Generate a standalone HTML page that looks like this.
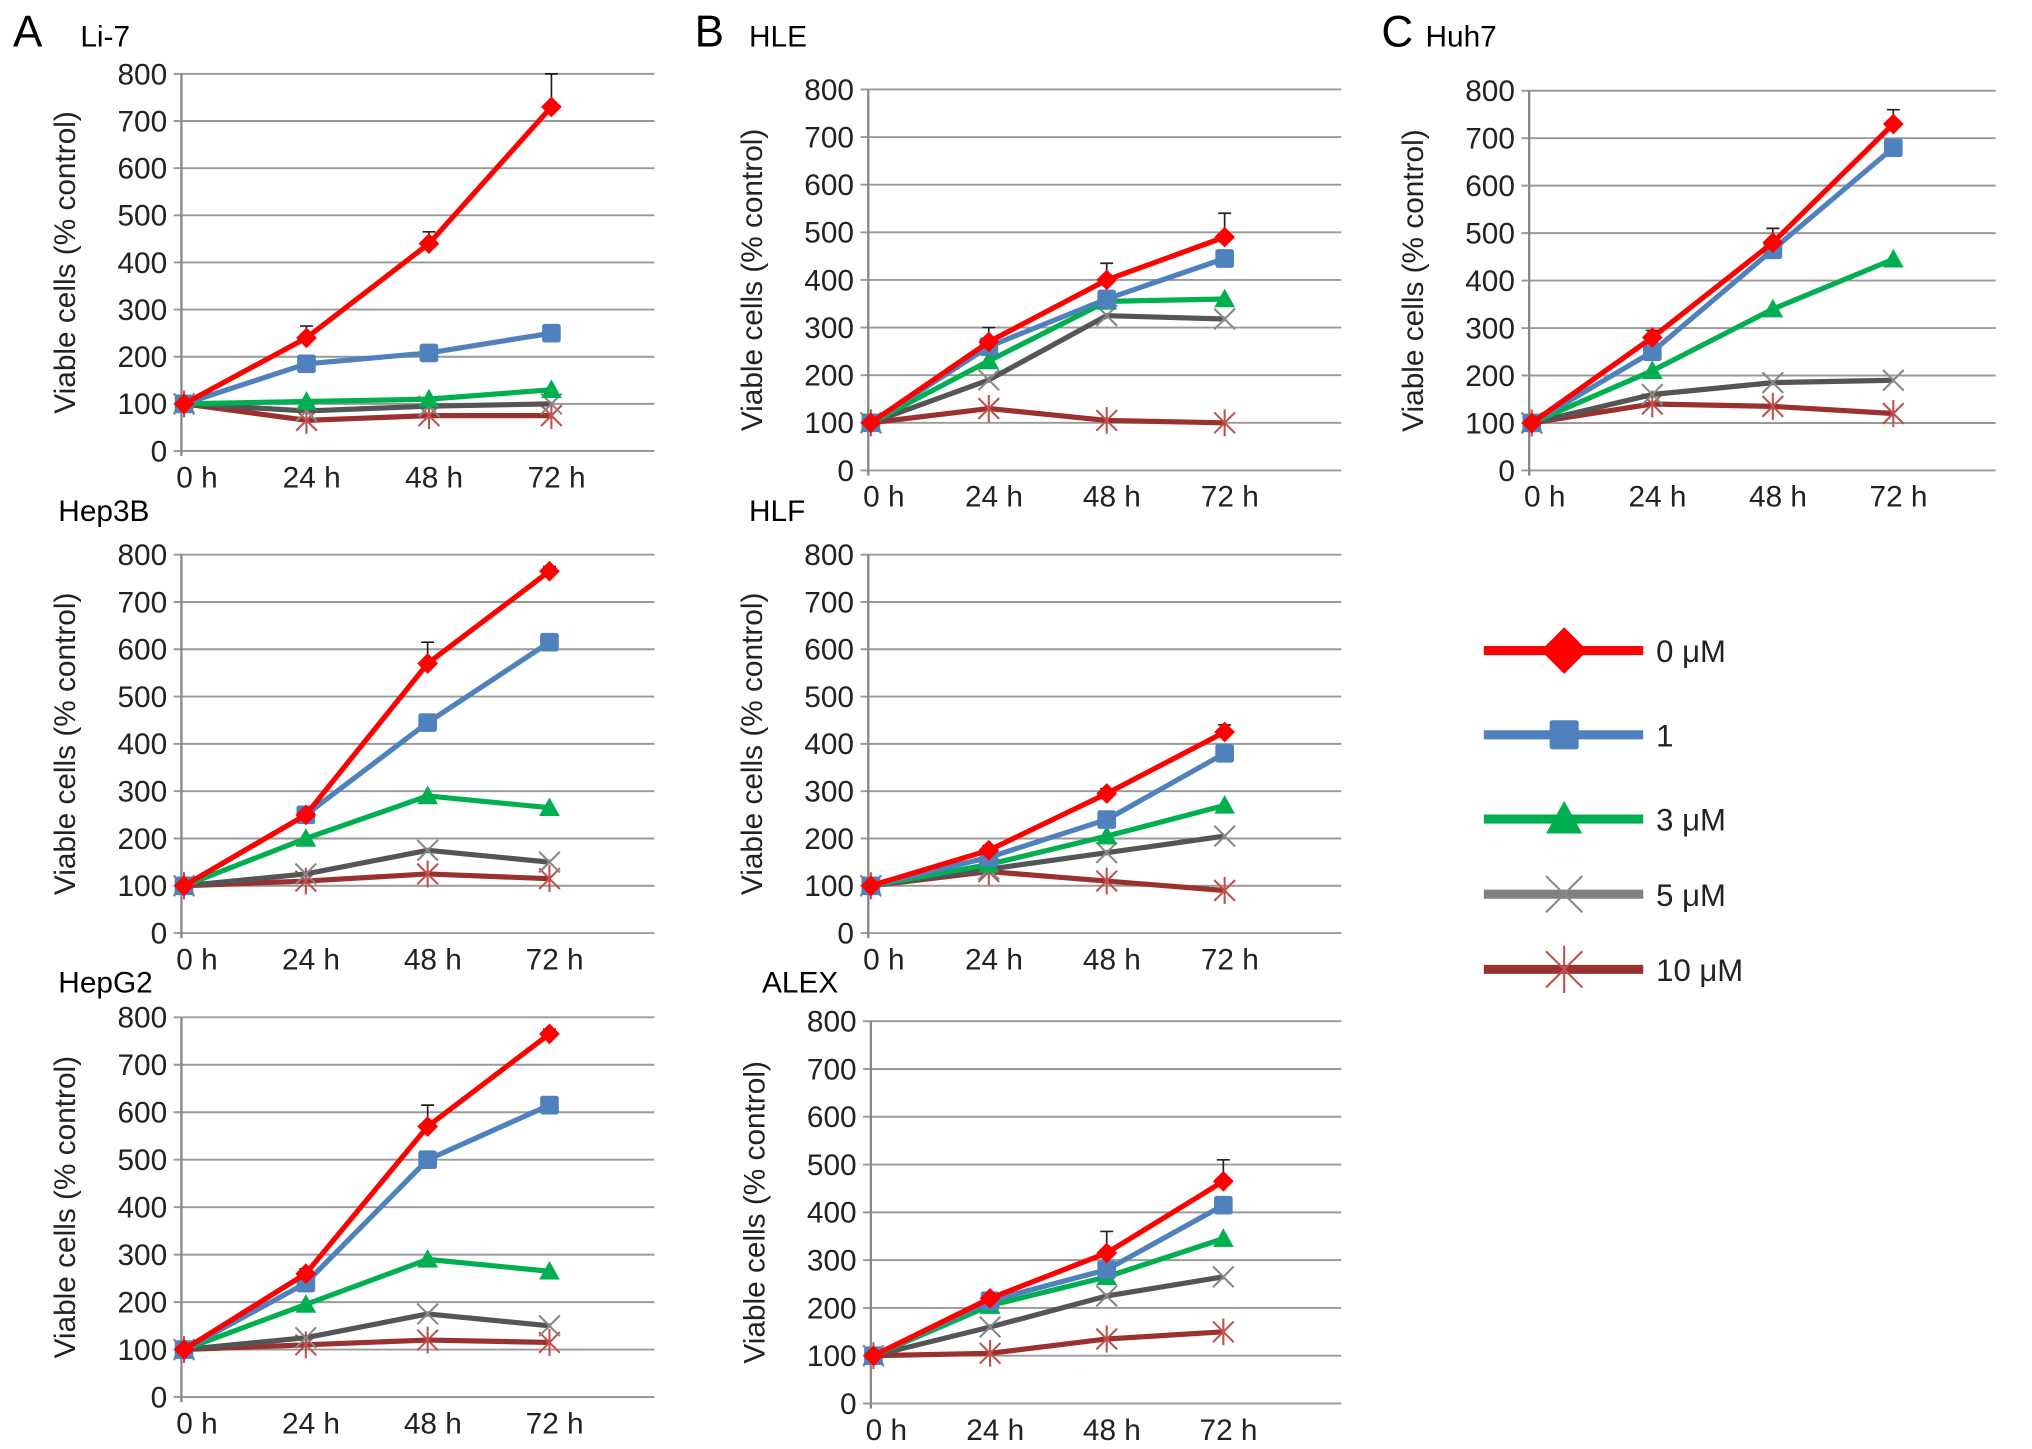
<!DOCTYPE html>
<html><head><meta charset="utf-8"><style>
html,body{margin:0;padding:0;background:#fff}
svg{display:block;font-family:"Liberation Sans",Arial,sans-serif}
</style></head><body>
<svg id="fig" width="2032" height="1449" viewBox="0 0 1568 1118.1" xmlns="http://www.w3.org/2000/svg">
<text x="10" y="36" font-size="34">A</text>
<text x="536" y="36" font-size="34">B</text>
<text x="1066" y="36" font-size="34">C</text>
<g id="legend"></g>
</svg>
<script>
const categories = ["0 h","24 h","48 h","72 h"];
const yTicks = [0,100,200,300,400,500,600,700,800];
const seriesNames = ["0 \u03bcM","1","3 \u03bcM","5 \u03bcM","10 \u03bcM"];

const li7_red=[100,240,440,730], li7_blue=[100,185,208,250], li7_green=[100,105,110,130], li7_gray=[100,85,95,100], li7_brown=[100,65,75,75];
const li7_err=[0,25,25,70];
const hle_red=[100,270,400,490], hle_blue=[100,260,360,445], hle_green=[100,230,355,360], hle_gray=[100,190,325,318], hle_brown=[100,130,105,100];
const hle_err=[0,30,35,50];
const huh7_red=[100,280,480,730], huh7_blue=[100,250,465,680], huh7_green=[100,210,340,445], huh7_gray=[100,160,185,190], huh7_brown=[100,140,135,120];
const huh7_err=[0,15,30,30];
const hep3b_red=[100,250,570,765], hep3b_blue=[100,250,445,615], hep3b_green=[100,200,290,265], hep3b_gray=[100,125,175,150], hep3b_brown=[100,110,125,115];
const hep3b_err=[0,10,45,10];
const hlf_red=[100,175,295,425], hlf_blue=[100,160,240,380], hlf_green=[100,145,205,270], hlf_gray=[100,135,170,205], hlf_brown=[100,130,110,90];
const hlf_err=[0,10,10,15];
const hepg2_red=[100,260,570,765], hepg2_blue=[100,240,500,615], hepg2_green=[100,195,290,265], hepg2_gray=[100,125,175,150], hepg2_brown=[100,110,120,115];
const hepg2_err=[0,10,45,10];
const alex_red=[100,220,315,465], alex_blue=[100,215,280,415], alex_green=[100,205,265,345], alex_gray=[100,160,225,265], alex_brown=[100,105,135,150];
const alex_err=[0,10,45,45];

const colors=["#ff0000","#4f81bd","#00b050","#555555","#9b3030"];
const markerColors=["#ff0000","#4f81bd","#00b050","#888888","#c0504d"];
const NS="http://www.w3.org/2000/svg";
const svg=document.getElementById('fig');
function mk(tag,attrs,parent){const e=document.createElementNS(NS,tag);for(const k in attrs)e.setAttribute(k,attrs[k]);(parent||svg).appendChild(e);return e;}

function marker(g,type,x,y,col,sz){
  let e;
  if(type===0){e=mk('polygon',{points:`${x},${y-sz} ${x+sz},${y} ${x},${y+sz} ${x-sz},${y}`,fill:col},g);}
  else if(type===1){e=mk('rect',{x:x-sz*0.8,y:y-sz*0.8,width:sz*1.6,height:sz*1.6,rx:2,fill:col},g);}
  else if(type===2){e=mk('polygon',{points:`${x},${y-sz} ${x+sz},${y+sz*0.8} ${x-sz},${y+sz*0.8}`,fill:col},g);}
  else if(type===3){e=mk('path',{d:`M${x-sz} ${y-sz}L${x+sz} ${y+sz}M${x-sz} ${y+sz}L${x+sz} ${y-sz}`,stroke:col,'stroke-width':1.6,fill:'none'},g);}
  else {e=mk('path',{d:`M${x-sz} ${y-sz}L${x+sz} ${y+sz}M${x-sz} ${y+sz}L${x+sz} ${y-sz}M${x} ${y-sz*1.3}L${x} ${y+sz*1.3}`,stroke:col,'stroke-width':1.6,fill:'none'},g);}
  return e;
}

function panel(cfg){
  const {name,title,tx,ty,ax,right,y800,y0,step,series,err}=cfg;
  const g=mk('g',{});
  
  
  const yS=v=>y0+(y800-y0)*v/800;
  const xS=i=>ax+2+i*step;
  const t=mk('text',{x:tx,y:ty,'font-size':23},g);t.textContent=title;
  
  
  yTicks.forEach(v=>{
    const y=yS(v);
    const gl=mk('line',{x1:ax-6,x2:right,y1:y,y2:y,stroke:'#999',"stroke-width":1.5},g);
    
    
    const lb=mk('text',{x:ax-11,y:y+8,'font-size':23,'text-anchor':'end',fill:'#222'},g);lb.textContent=v;
    
    
  });
  const axl=mk('line',{x1:ax,x2:ax,y1:y800,y2:y0+4,stroke:'#888',"stroke-width":1.8},g);
  
  
  categories.forEach((c,i)=>{
    const lb=mk('text',{x:xS(i)+(i===0?10:4),y:y0+28,'font-size':23,'text-anchor':'middle',fill:'#222'},g);lb.textContent=c;
    
    
  });
  const yt=mk('text',{x:0,y:0,'font-size':23,'text-anchor':'middle',fill:'#222',transform:`translate(${ax-82},${(y0+y800)/2}) rotate(-90)`},g);
  yt.textContent='Viable cells (% control)';
  
  
  series[0].forEach((v,i)=>{
    if(!err[i])return;
    const x=xS(i),y1=yS(v),y2=yS(v+err[i]);
    const eb=mk('path',{d:`M${x} ${y1}L${x} ${y2}M${x-5} ${y2}L${x+5} ${y2}`,stroke:'#222','stroke-width':1.3,fill:'none'},g);
    
    
  });
  for(let s=series.length-1;s>=0;s--){
    const vals=series[s];
    const pts=vals.map((v,i)=>xS(i)+','+yS(v)).join(' ');
    const pl=mk('polyline',{points:pts,fill:'none',stroke:colors[s],'stroke-width':4,'stroke-linejoin':'round'},g);
    
    
    vals.forEach((v,i)=>{
      const m=marker(g,s,xS(i),yS(v),markerColors[s],s===1?9:8);
      
      
    });
  }
}

panel({name:'li7',title:'Li-7',tx:62,ty:36,ax:140,right:505,y800:57,y0:348,step:94.5,series:[li7_red,li7_blue,li7_green,li7_gray,li7_brown],err:li7_err});
panel({name:'hep3b',title:'Hep3B',tx:45,ty:402,ax:140,right:505,y800:428,y0:720,step:94,series:[hep3b_red,hep3b_blue,hep3b_green,hep3b_gray,hep3b_brown],err:hep3b_err});
panel({name:'hepg2',title:'HepG2',tx:45,ty:766,ax:140,right:505,y800:785,y0:1078,step:94,series:[hepg2_red,hepg2_blue,hepg2_green,hepg2_gray,hepg2_brown],err:hepg2_err});
panel({name:'hle',title:'HLE',tx:578,ty:36,ax:670,right:1035,y800:69,y0:363,step:91,series:[hle_red,hle_blue,hle_green,hle_gray,hle_brown],err:hle_err});
panel({name:'hlf',title:'HLF',tx:578,ty:402,ax:670,right:1035,y800:428,y0:720,step:91,series:[hlf_red,hlf_blue,hlf_green,hlf_gray,hlf_brown],err:hlf_err});
panel({name:'alex',title:'ALEX',tx:588,ty:766,ax:672,right:1035,y800:788,y0:1083,step:90,series:[alex_red,alex_blue,alex_green,alex_gray,alex_brown],err:alex_err});
panel({name:'huh7',title:'Huh7',tx:1100,ty:36,ax:1180,right:1540,y800:70,y0:363,step:93,series:[huh7_red,huh7_blue,huh7_green,huh7_gray,huh7_brown],err:huh7_err});

const leg=document.getElementById('legend');
const legY=[502,567,632,690,748];
const legLine=["#ff0000","#4f81bd","#00b050","#808080","#9b3030"];
seriesNames.forEach((n,i)=>{
  const y=legY[i];
  const ln=mk('line',{x1:1145,x2:1268,y1:y,y2:y,stroke:legLine[i],'stroke-width':7},leg);
  
  
  const m=marker(leg,i,1207,y,markerColors[i],i===0?18:14);
  
  
  const t=mk('text',{x:1278,y:y+9,'font-size':24,fill:'#222'},leg);t.textContent=n;
  
  
});
</script>
</body></html>
